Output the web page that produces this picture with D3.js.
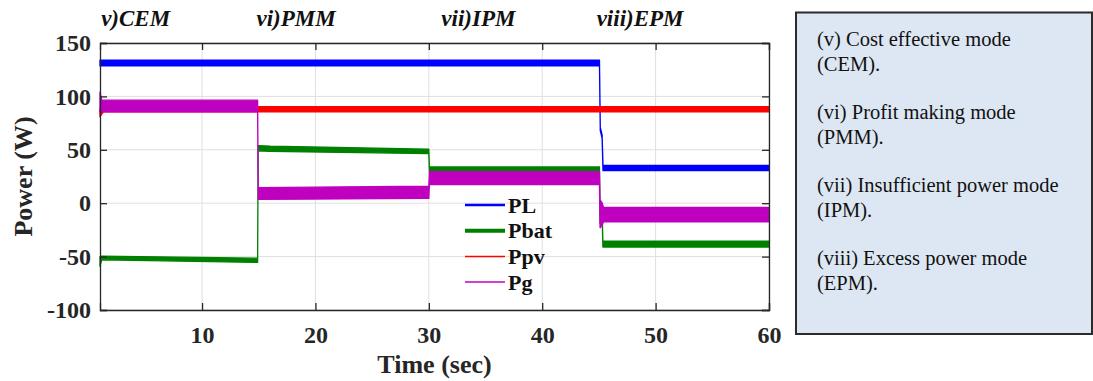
<!DOCTYPE html>
<html>
<head>
<meta charset="utf-8">
<script src="https://cdn.jsdelivr.net/npm/d3@7"></script>
<style>
  body { margin: 0; background: #fff; }
  svg text { font-family: "Liberation Serif", "Times New Roman", serif; }
</style>
</head>
<body>
<div id="chart"></div>
<script>
var svgWidth = 1093;
var svgHeight = 381;

var margin = { top: 43, right: 324, bottom: 71, left: 100 };
var width = 769 - margin.left;
var height = 310 - margin.top;

// data: time (sec), lower and upper edge of each noisy trace (W)
var plTime = [1, 45.05, 45.12, 45.28, 45.36, 60];
var plLow  = [128.5, 128.5, 68, 61, 30.5, 30.5];
var plHigh = [134, 134, 71, 64, 35.5, 35.5];

var pbatTime = [1, 1.15, 14.9, 14.95, 16, 30, 30.05, 45.05, 45.1, 45.3, 45.35, 60];
var pbatLow  = [-59, -53, -55.5, 49, 48.5, 46.5, 29.8, 29.8, -19, -19, -41, -41];
var pbatHigh = [-50, -49.5, -51.5, 54, 53.5, 50.5, 34, 34, -14, -14, -35.5, -35.5];

var ppvTime = [1, 1.3, 60];
var ppvLow  = [81, 85.5, 85.5];
var ppvHigh = [88, 90.5, 90.5];

var pgTime = [1, 1.15, 14.9, 14.95, 30, 30.05, 45.05, 45.1, 45.3, 45.4, 60];
var pgLow  = [85, 85.5, 85.5, 3.5, 4.5, 17.5, 17.5, -23, -20, -17.5, -17.5];
var pgHigh = [104, 96.5, 96.5, 14.5, 16, 29.5, 29.5, 3, 0, -4, -4];

var seriesNames = ["PL", "Pbat", "Ppv", "Pg"];
var seriesColors = ["#0000ff", "#008000", "#ff0000", "#bf00bf"];
var legendWidths = [2.5, 4, 1.5, 1.5];

var xTicks = [10, 20, 30, 40, 50, 60];
var yTicks = [-100, -50, 0, 50, 100, 150];

var modeLabels = ["v)CEM", "vi)PMM", "vii)IPM", "viii)EPM"];
var modeStarts = [1.1, 14.8, 31.1, 44.8];

var noteLines = [
  "(v) Cost effective mode", "(CEM).",
  "(vi) Profit making mode", "(PMM).",
  "(vii) Insufficient power mode", "(IPM).",
  "(viii) Excess power mode", "(EPM)."
];

function zip(t, lo, hi) {
  return t.map(function (d, i) { return { t: d, lo: lo[i], hi: hi[i] }; });
}
var series = [
  zip(plTime, plLow, plHigh),
  zip(pbatTime, pbatLow, pbatHigh),
  zip(ppvTime, ppvLow, ppvHigh),
  zip(pgTime, pgLow, pgHigh)
];

var svg = d3.select("#chart")
  .append("svg")
  .attr("width", svgWidth)
  .attr("height", svgHeight);

var chartGroup = svg.append("g")
  .attr("transform", `translate(${margin.left}, ${margin.top})`);

var x = d3.scaleLinear().domain([1, 60]).range([0, width]);
var y = d3.scaleLinear().domain([-100, 150]).range([height, 0]);

// grid
chartGroup.append("g")
  .selectAll("line")
  .data(xTicks)
  .enter().append("line")
  .attr("x1", d => x(d)).attr("x2", d => x(d))
  .attr("y1", 0).attr("y2", height)
  .attr("stroke", "#dfdfdf").attr("stroke-width", 1);

chartGroup.append("g")
  .selectAll("line")
  .data(yTicks)
  .enter().append("line")
  .attr("x1", 0).attr("x2", width)
  .attr("y1", d => y(d)).attr("y2", d => y(d))
  .attr("stroke", "#dfdfdf").attr("stroke-width", 1);

// traces
var area = d3.area()
  .x(d => x(d.t))
  .y0(d => y(d.lo))
  .y1(d => y(d.hi));

series.forEach(function (s, i) {
  chartGroup.append("path")
    .datum(s)
    .attr("d", area)
    .attr("fill", seriesColors[i])
    .attr("stroke", seriesColors[i])
    .attr("stroke-width", 1.3)
    .attr("stroke-linejoin", "round");
});

// axes (ticks inward on all four sides)
var tickLen = 7;
var plain = d => String(d);
var bottomAxis = d3.axisBottom(x).tickValues(xTicks).tickSize(-tickLen).tickPadding(16).tickFormat(plain);
var leftAxis = d3.axisLeft(y).tickValues(yTicks).tickSize(-tickLen).tickPadding(9).tickFormat(plain);
var topAxis = d3.axisTop(x).tickValues(xTicks).tickSize(-tickLen).tickFormat("");
var rightAxis = d3.axisRight(y).tickValues(yTicks).tickSize(-tickLen).tickFormat("");

function styleAxis(g) {
  g.select(".domain").attr("stroke", "#262626").attr("stroke-width", 1.3);
  g.selectAll(".tick line").attr("stroke", "#262626").attr("stroke-width", 1.3);
  g.selectAll(".tick text")
    .attr("fill", "#262626")
    .attr("font-family", "'Liberation Serif', 'Times New Roman', serif")
    .attr("font-size", "24px")
    .attr("font-weight", "bold");
}

chartGroup.append("g").attr("transform", `translate(0, ${height})`).call(bottomAxis).call(styleAxis);
chartGroup.append("g").call(leftAxis).call(styleAxis);
chartGroup.append("g").call(topAxis).call(styleAxis);
chartGroup.append("g").attr("transform", `translate(${width}, 0)`).call(rightAxis).call(styleAxis);

// axis titles
chartGroup.append("text")
  .attr("x", width / 2)
  .attr("y", height + 63)
  .attr("text-anchor", "middle")
  .attr("font-size", "26px")
  .attr("font-weight", "bold")
  .attr("fill", "#262626")
  .text("Time (sec)");

chartGroup.append("text")
  .attr("transform", "rotate(-90)")
  .attr("x", -(height / 2))
  .attr("y", -68)
  .attr("text-anchor", "middle")
  .attr("font-size", "26px")
  .attr("font-weight", "bold")
  .attr("fill", "#262626")
  .text("Power (W)");

// mode labels above the plot
chartGroup.selectAll(".mode")
  .data(modeLabels)
  .enter().append("text")
  .attr("class", "mode")
  .attr("x", (d, i) => x(modeStarts[i]))
  .attr("y", -17)
  .attr("font-size", "23px")
  .attr("font-weight", "bold")
  .attr("font-style", "italic")
  .attr("fill", "#111")
  .text(d => d);

// legend
var legend = chartGroup.append("g")
  .attr("transform", `translate(${465 - margin.left}, ${205 - margin.top})`);

seriesNames.forEach(function (name, i) {
  var row = legend.append("g").attr("transform", `translate(0, ${i * 25.7})`);
  row.append("line")
    .attr("x1", 0).attr("x2", 40)
    .attr("y1", 0).attr("y2", 0)
    .attr("stroke", seriesColors[i])
    .attr("stroke-width", legendWidths[i]);
  row.append("text")
    .attr("x", 43)
    .attr("y", 7.5)
    .attr("font-size", "22px")
    .attr("font-weight", "bold")
    .attr("fill", "#111")
    .text(name);
});

// note box on the right
svg.append("rect")
  .attr("x", 796)
  .attr("y", 12.5)
  .attr("width", 296)
  .attr("height", 321.5)
  .attr("fill", "#dde7f3")
  .attr("stroke", "#2b2b2b")
  .attr("stroke-width", 2);

var noteBaselines = [46, 71, 119, 144, 192, 217, 265, 290];
svg.selectAll(".note")
  .data(noteLines)
  .enter().append("text")
  .attr("class", "note")
  .attr("x", 817)
  .attr("y", (d, i) => noteBaselines[i])
  .attr("font-size", "20.5px")
  .attr("fill", "#111")
  .text(d => d);
</script>
</body>
</html>
